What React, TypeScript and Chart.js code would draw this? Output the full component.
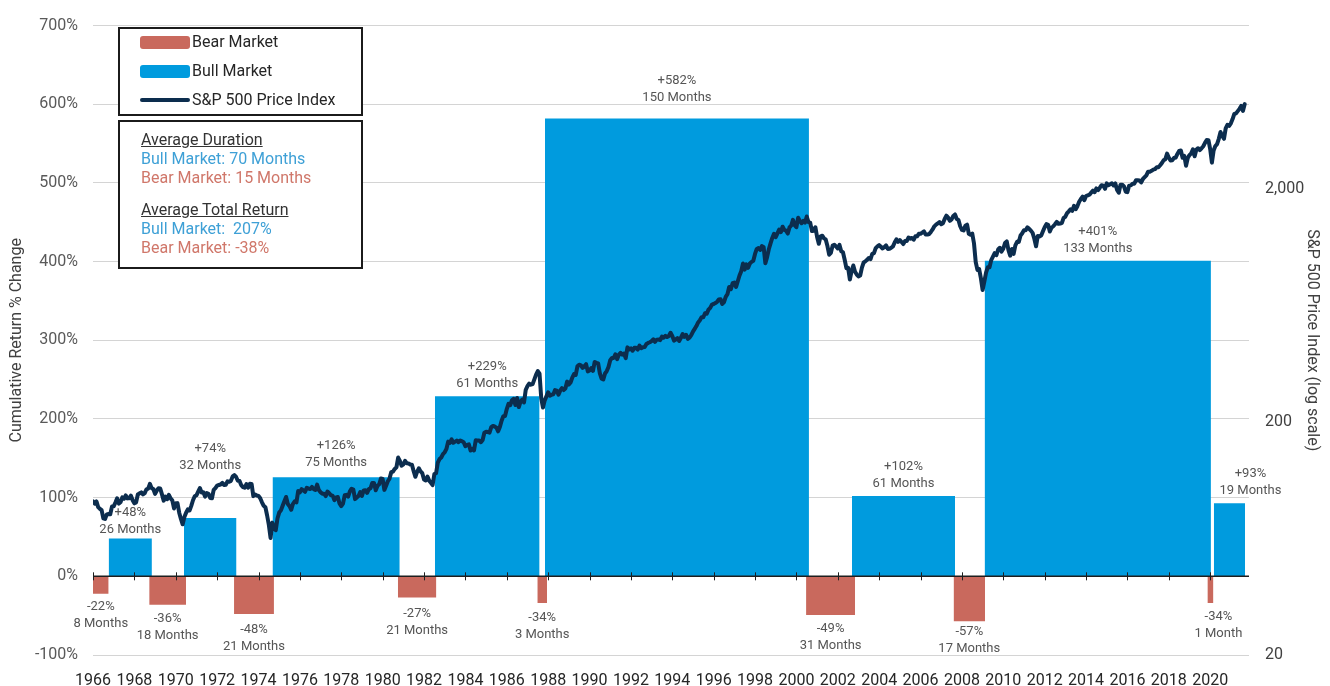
import React, { useEffect, useRef } from "react";
import { Chart, registerables } from "chart.js";

Chart.register(...registerables);

// ---------- DATA ----------
// x-axis tick labels (years)
const yearTicks = [1966, 1968, 1970, 1972, 1974, 1976, 1978, 1980, 1982, 1984, 1986, 1988, 1990, 1992, 1994, 1996, 1998, 2000, 2002, 2004, 2006, 2008, 2010, 2012, 2014, 2016, 2018, 2020];
const leftTicks = [-100, 0, 100, 200, 300, 400, 500, 600, 700];
const rightTicks = [20, 200, 2000];

// monthly series starts Feb 1966
const seriesStart = 1966 + 1 / 12;
const seriesEnd = 2021.96;

// Bull markets (decimal years), cumulative return %, duration
const bullStart = [1966.84, 1970.48, 1974.76, 1982.61, 1987.93, 2002.77, 2009.18, 2020.26];
const bullEnd = [1968.93, 1973.02, 1980.91, 1987.67, 2000.69, 2007.75, 2020.12, 2021.77];
const bullReturn = [48, 74, 126, 229, 582, 102, 401, 93];
const bullMonths = [26, 32, 75, 61, 150, 61, 133, 19];

// Bear markets
const bearStart = [1966.08, 1968.8, 1972.9, 1980.82, 1987.56, 2000.55, 2007.68, 2019.95];
const bearEnd = [1966.84, 1970.58, 1974.83, 1982.68, 1988.03, 2002.92, 2009.2, 2020.24];
const bearReturn = [-22, -36, -48, -27, -34, -49, -57, -34];
const bearMonths = [8, 18, 21, 21, 3, 31, 17, 1];

// S&P 500 monthly closes, Feb 1966 .. Oct 2021
const spxMonthly = [
  91.2, 89.2, 91.1, 86.1, 84.7, 83.6, 77.1, 76.6, 80.2, 80.5, 80.3,
  86.6, 86.8, 90.2, 94.0, 89.1, 90.6, 94.8, 93.6, 96.7, 93.9, 94.0, 96.5,
  92.2, 89.4, 90.2, 97.6, 98.7, 99.6, 97.7, 98.9, 102.7, 103.4, 108.4, 103.9,
  103.0, 98.1, 101.5, 103.7, 103.5, 97.7, 91.8, 95.5, 93.1, 97.2, 93.8, 92.1,
  85.0, 89.5, 89.6, 81.5, 76.6, 72.7, 78.1, 81.5, 84.2, 83.3, 87.2, 92.2,
  95.9, 96.8, 100.3, 104.0, 99.6, 99.7, 95.6, 99.0, 98.3, 94.2, 94.0, 102.1,
  103.9, 106.6, 107.2, 107.7, 109.5, 107.1, 107.4, 111.1, 110.6, 111.6, 116.7, 118.1,
  116.0, 111.7, 111.5, 107.0, 105.0, 104.3, 108.2, 104.3, 108.4, 108.3, 96.0, 97.6,
  96.6, 96.2, 94.0, 90.3, 87.3, 86.0, 79.3, 72.2, 63.5, 73.9, 70.0, 68.6,
  77.0, 81.6, 83.4, 87.3, 91.2, 95.2, 88.8, 86.9, 83.9, 89.0, 91.2, 90.2,
  100.9, 99.7, 102.8, 101.6, 100.2, 104.3, 103.4, 102.9, 105.2, 102.9, 102.1, 107.5,
  102.0, 99.8, 98.4, 98.4, 96.1, 100.5, 98.9, 96.8, 96.5, 92.3, 94.8, 95.1,
  89.3, 87.0, 89.2, 96.8, 97.2, 95.5, 100.7, 103.3, 102.5, 93.2, 94.7, 96.1,
  99.9, 96.3, 101.6, 101.8, 99.1, 102.9, 103.8, 109.3, 109.3, 101.8, 106.2, 107.9,
  114.2, 113.7, 102.1, 106.3, 111.2, 114.2, 121.7, 122.4, 125.5, 127.5, 140.5, 135.8,
  129.6, 131.3, 136.0, 132.8, 132.6, 131.2, 130.9, 122.8, 116.2, 121.9, 126.4, 122.6,
  120.4, 113.1, 112.0, 116.4, 111.9, 109.6, 107.1, 119.5, 120.4, 133.7, 138.5, 140.6,
  145.3, 148.1, 153.0, 164.4, 162.4, 168.1, 162.6, 164.4, 166.1, 163.6, 166.4, 164.9,
  163.4, 157.1, 159.2, 160.1, 150.6, 153.2, 150.7, 166.7, 166.1, 166.1, 163.6, 167.2,
  179.6, 181.2, 180.7, 179.8, 189.6, 191.9, 190.9, 188.6, 182.1, 189.8, 202.2, 211.3,
  211.8, 226.9, 238.9, 235.5, 247.4, 250.8, 236.1, 252.9, 231.3, 244.0, 249.2, 242.2,
  274.1, 284.2, 291.7, 288.4, 290.1, 304.0, 318.7, 329.8, 321.8, 251.8, 230.3, 247.1,
  257.1, 267.8, 258.9, 261.3, 262.2, 273.5, 272.0, 261.5, 271.9, 279.0, 273.7, 277.7,
  297.5, 288.9, 294.9, 309.6, 320.5, 318.0, 346.1, 351.5, 349.2, 340.4, 346.0, 353.4,
  329.1, 331.9, 339.9, 330.8, 361.2, 358.0, 356.2, 322.6, 306.1, 304.0, 322.2, 330.2,
  343.9, 367.1, 375.2, 375.4, 389.8, 371.2, 387.8, 395.4, 387.9, 392.5, 375.2, 417.1,
  408.8, 412.7, 403.7, 415.0, 415.4, 408.1, 424.2, 414.0, 417.8, 418.7, 431.4, 435.7,
  438.8, 443.4, 451.7, 440.2, 450.2, 450.5, 448.1, 463.6, 458.9, 467.8, 461.8, 466.5,
  481.6, 467.1, 445.8, 450.9, 456.5, 444.3, 458.3, 475.5, 462.7, 472.4, 453.7, 459.3,
  470.4, 487.4, 500.7, 514.7, 533.4, 544.8, 562.1, 561.9, 584.4, 581.5, 605.4, 615.9,
  636, 640, 646, 654, 669, 671, 640, 652, 687, 705, 757, 741,
  786, 791, 757, 801, 848, 885, 954, 899, 947, 915, 955, 970,
  980, 1049, 1102, 1112, 1091, 1134, 1121, 957, 1017, 1099, 1164, 1229,
  1280, 1238, 1286, 1335, 1302, 1373, 1329, 1320, 1283, 1363, 1389, 1469,
  1394, 1366, 1499, 1452, 1421, 1455, 1431, 1518, 1437, 1429, 1315, 1320,
  1366, 1240, 1160, 1249, 1256, 1224, 1211, 1134, 1041, 1060, 1139, 1148,
  1130, 1107, 1147, 1077, 1067, 990, 912, 916, 815, 886, 936, 880,
  856, 841, 848, 917, 964, 975, 990, 1008, 996, 1051, 1058, 1112,
  1131, 1145, 1126, 1107, 1121, 1141, 1102, 1104, 1115, 1130, 1174, 1212,
  1181, 1204, 1181, 1157, 1192, 1191, 1234, 1220, 1229, 1207, 1249, 1248,
  1280, 1281, 1295, 1311, 1270, 1270, 1277, 1304, 1336, 1378, 1401, 1418,
  1438, 1407, 1421, 1482, 1531, 1503, 1455, 1474, 1527, 1549, 1481, 1468,
  1379, 1331, 1323, 1386, 1400, 1280, 1267, 1283, 1166, 969, 896, 903,
  826, 735, 798, 873, 919, 919, 987, 1021, 1057, 1036, 1096, 1115,
  1074, 1104, 1169, 1187, 1089, 1031, 1102, 1049, 1141, 1183, 1181, 1258,
  1286, 1327, 1326, 1364, 1345, 1321, 1292, 1219, 1131, 1253, 1247, 1258,
  1312, 1366, 1408, 1398, 1310, 1362, 1379, 1407, 1441, 1412, 1416, 1426,
  1498, 1515, 1569, 1598, 1631, 1606, 1686, 1633, 1682, 1757, 1806, 1848,
  1783, 1859, 1872, 1884, 1924, 1960, 1931, 2003, 1972, 2018, 2068, 2059,
  1995, 2105, 2068, 2086, 2107, 2063, 2104, 1972, 1920, 2079, 2080, 2044,
  1940, 1932, 2060, 2065, 2097, 2099, 2174, 2171, 2168, 2126, 2199, 2239,
  2279, 2364, 2363, 2384, 2412, 2423, 2470, 2472, 2519, 2575, 2648, 2674,
  2824, 2714, 2641, 2648, 2705, 2718, 2816, 2902, 2914, 2712, 2760, 2507,
  2704, 2784, 2834, 2946, 2752, 2942, 2980, 2926, 2977, 3038, 3141, 3231,
  3226, 2954, 2585, 2912, 3044, 3100, 3271, 3500, 3363, 3270, 3622, 3756,
  3714, 3811, 3973, 4181, 4204, 4298, 4395, 4523, 4308, 4605,
];

// ---------- STYLE ----------
const BULL = "#009bde";
const BEAR = "#c9695d";
const LINE = "#0c2d4e";
const FONT = "Roboto";
// label placement (px) - gap between bar edge and label, horizontal nudge
const bullLabelGap = [9, 52, 14, 12, 21, 12, 12, 12];
const bullLabelDx = [0, 0, 0, 0, 0, 0, 0, 21];
const bearLabelGap = [13, 14, 16, 16, 15, 14, 11, 14];
const bearLabelDx = [0, 0, 0, 0, 0, 0, 0, 8];

const overlayPlugin = {
  id: "overlay",
  afterDatasetsDraw(chart: any) {
    const { ctx, chartArea, scales } = chart;
    const xs = scales.x;
    const ys = scales.y;
    const y0 = ys.getPixelForValue(0);
    ctx.save();
    // zero line with tick marks
    ctx.strokeStyle = "#1e1e1e";
    ctx.lineWidth = 1.5;
    ctx.beginPath();
    ctx.moveTo(chartArea.left, y0);
    ctx.lineTo(chartArea.right, y0);
    ctx.stroke();
    ctx.lineWidth = 1;
    ctx.beginPath();
    xs.ticks.forEach((t: any) => {
      const px = Math.round(xs.getPixelForValue(t.value)) + 0.5;
      ctx.moveTo(px, y0 - 4);
      ctx.lineTo(px, y0 + 4);
    });
    ctx.stroke();

    // data labels
    ctx.font = `13px ${FONT}`;
    ctx.fillStyle = "#555555";
    ctx.textAlign = "center";
    ctx.textBaseline = "middle";
    const lh = 17;
    bullStart.forEach((s, i) => {
      const cx = (xs.getPixelForValue(s) + xs.getPixelForValue(bullEnd[i])) / 2 + bullLabelDx[i];
      const top = ys.getPixelForValue(bullReturn[i]);
      const l2 = top - bullLabelGap[i];
      ctx.fillText(`+${bullReturn[i]}%`, cx, l2 - lh);
      ctx.fillText(`${bullMonths[i]} Months`, cx, l2);
    });
    bearStart.forEach((s, i) => {
      const cx = (xs.getPixelForValue(s) + xs.getPixelForValue(bearEnd[i])) / 2 + bearLabelDx[i];
      const bottom = ys.getPixelForValue(bearReturn[i]);
      const l1 = bottom + bearLabelGap[i];
      ctx.fillText(`${bearReturn[i]}%`, cx, l1);
      ctx.fillText(`${bearMonths[i]} ${bearMonths[i] === 1 ? "Month" : "Months"}`, cx, l1 + lh);
    });
    ctx.restore();
  },
};

export default function App() {
  const ref = useRef<HTMLCanvasElement>(null);

  useEffect(() => {
    const canvas = ref.current;
    if (!canvas) return;
    Chart.defaults.font.family = FONT;

    const spxPoints = spxMonthly.map((v, i) => ({ x: seriesStart + i / 12, y: v }));
    const datasets: any[] = [
      {
        label: "S&P 500 Price Index",
        data: spxPoints,
        yAxisID: "y2",
        borderColor: LINE,
        borderWidth: 4,
        pointRadius: 0,
        tension: 0,
        fill: false,
        order: 0,
        borderJoinStyle: "round",
        borderCapStyle: "round",
      },
    ];
    bullStart.forEach((s, i) => {
      datasets.push({
        label: "Bull Market",
        data: [
          { x: s, y: bullReturn[i] },
          { x: bullEnd[i], y: bullReturn[i] },
        ],
        yAxisID: "y",
        backgroundColor: BULL,
        borderColor: "rgba(0,0,0,0)",
        borderWidth: 0,
        pointRadius: 0,
        fill: "origin",
        order: 1,
      });
    });
    bearStart.forEach((s, i) => {
      datasets.push({
        label: "Bear Market",
        data: [
          { x: s, y: bearReturn[i] },
          { x: bearEnd[i], y: bearReturn[i] },
        ],
        yAxisID: "y",
        backgroundColor: BEAR,
        borderColor: "rgba(0,0,0,0)",
        borderWidth: 0,
        pointRadius: 0,
        fill: "origin",
        order: 1,
      });
    });

    const chart = new Chart(canvas, {
      type: "line",
      data: { datasets },
      plugins: [overlayPlugin],
      options: {
        animation: false,
        responsive: false,
        events: [],
        layout: { padding: { top: 20, left: 0, right: 0, bottom: 0 } },
        plugins: { legend: { display: false }, tooltip: { enabled: false } },
        scales: {
          x: {
            type: "linear",
            min: seriesStart,
            max: seriesEnd,
            grid: { display: false },
            border: { display: false },
            afterBuildTicks: (s: any) => {
              s.ticks = yearTicks.map((y) => ({ value: y + 1 / 12 }));
            },
            ticks: {
              autoSkip: false,
              maxRotation: 0,
              padding: 8,
              color: "#262626",
              font: { size: 16 },
              callback: (v: any) => String(Math.floor(Number(v) + 1e-6)),
            },
            afterFit: (s: any) => {
              s.height = 31;
            },
          },
          y: {
            type: "linear",
            position: "left",
            min: -100,
            max: 700,
            afterBuildTicks: (s: any) => {
              s.ticks = leftTicks.map((v) => ({ value: v }));
            },
            ticks: {
              padding: 15,
              color: "#595959",
              font: { size: 16 },
              callback: (v: any) => `${v}%`,
            },
            grid: { color: "#d4d4d4", drawTicks: false, lineWidth: 1 },
            border: { display: false },
            title: {
              display: true,
              text: "Cumulative Return % Change",
              color: "#404040",
              font: { size: 16 },
              padding: { top: 7, bottom: 0 },
            },
            afterFit: (s: any) => {
              s.width = 93;
            },
          },
          y2: {
            type: "logarithmic",
            position: "right",
            min: 20,
            max: 10000,
            afterBuildTicks: (s: any) => {
              s.ticks = rightTicks.map((v) => ({ value: v }));
            },
            ticks: {
              padding: 16,
              color: "#404040",
              font: { size: 16 },
              callback: (v: any) => Number(v).toLocaleString("en-US"),
            },
            grid: { display: false, drawTicks: false },
            border: { display: false },
            title: {
              display: true,
              text: "S&P 500 Price Index (log scale)",
              color: "#404040",
              font: { size: 16 },
              padding: { top: 8, bottom: 0 },
            },
            afterFit: (s: any) => {
              s.width = 81;
            },
          },
        },
      } as any,
    });
    return () => chart.destroy();
  }, []);

  const txt = (extra: React.CSSProperties): React.CSSProperties => ({
    position: "absolute",
    fontFamily: FONT,
    fontSize: 16,
    lineHeight: "18px",
    whiteSpace: "pre",
    color: "#262626",
    ...extra,
  });

  return (
    <div style={{ position: "absolute", left: 0, top: 0, width: 1330, height: 686, background: "#ffffff" }}>
      <canvas ref={ref} width={1330} height={686} style={{ position: "absolute", left: 0, top: 0 }} />
      <div
        style={{
          position: "absolute",
          left: 118,
          top: 27,
          width: 245,
          height: 89,
          border: "2px solid #1b1b1b",
          boxSizing: "border-box",
          background: "#fff",
        }}
      />
      <div style={{ position: "absolute", left: 140, top: 36, width: 50, height: 13, background: BEAR, borderRadius: 3 }} />
      <div style={txt({ left: 192, top: 33 })}>Bear Market</div>
      <div style={{ position: "absolute", left: 140, top: 65, width: 50, height: 13, background: BULL, borderRadius: 3 }} />
      <div style={txt({ left: 192, top: 62 })}>Bull Market</div>
      <div style={{ position: "absolute", left: 140, top: 98, width: 50, height: 4, background: LINE, borderRadius: 2 }} />
      <div style={txt({ left: 192, top: 91 })}>S&amp;P 500 Price Index</div>

      <div
        style={{
          position: "absolute",
          left: 118,
          top: 120,
          width: 245,
          height: 149,
          border: "2px solid #1b1b1b",
          boxSizing: "border-box",
          background: "#fff",
        }}
      />
      <div style={txt({ left: 141, top: 131, textDecoration: "underline", color: "#333" })}>Average Duration</div>
      <div style={txt({ left: 141, top: 150, color: "#3ea0d6" })}>Bull Market: 70 Months</div>
      <div style={txt({ left: 141, top: 169, color: "#d0776a" })}>Bear Market: 15 Months</div>
      <div style={txt({ left: 141, top: 201, textDecoration: "underline", color: "#333" })}>Average Total Return</div>
      <div style={txt({ left: 141, top: 220, color: "#3ea0d6" })}>Bull Market:  207%</div>
      <div style={txt({ left: 141, top: 239, color: "#d0776a" })}>Bear Market: -38%</div>
    </div>
  );
}
